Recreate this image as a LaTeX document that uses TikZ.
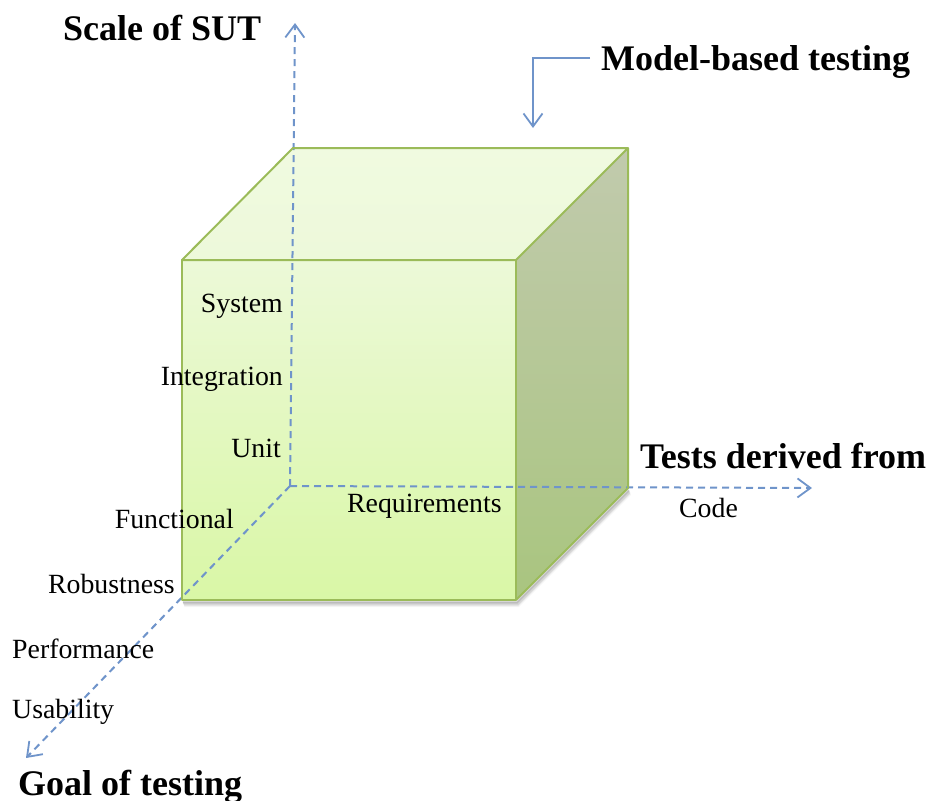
\documentclass[tikz,border=0pt]{standalone}
\usepackage{fontspec}
\setmainfont{Liberation Serif}
\usetikzlibrary{arrows.meta}

\definecolor{axisblue}{HTML}{6F94CA}
\definecolor{edgegreen}{HTML}{9BBB59}
\definecolor{topA}{HTML}{F0FAE0}
\definecolor{topB}{HTML}{EDF9DA}
\definecolor{frontA}{HTML}{ECF9D8}
\definecolor{frontB}{HTML}{D9F7A6}
\definecolor{sideA}{HTML}{C1CAAD}
\definecolor{sideB}{HTML}{A9C57F}

\tikzset{
  barb/.style={-{Straight Barb[length=13pt,width=19pt,line width=1.8pt]}},
  axisline/.style={barb, draw=axisblue, line width=2pt, dash pattern=on 7pt off 5pt},
  callout/.style={barb, draw=axisblue, line width=1.8pt},
  cubeedge/.style={draw=edgegreen, line width=2pt, line join=round},
  lbl/.style={inner sep=0pt, font=\fontsize{27.8}{32}\selectfont},
  title/.style={inner sep=0pt, font=\fontsize{36}{42}\selectfont\bfseries},
}

\begin{document}
\begin{tikzpicture}[x=1pt,y=-1pt]
\useasboundingbox (0,0) rectangle (930,801);

% cube corners
\coordinate (F1) at (182,260);
\coordinate (F2) at (516,260);
\coordinate (F3) at (516,600);
\coordinate (F4) at (182,600);
\coordinate (B1) at (293,148);
\coordinate (B2) at (628,148);
\coordinate (B3) at (628,488);

% soft shadow under the lower edges
\foreach \d/\o in {6/0.04,5/0.06,4/0.09,3/0.12,2/0.16}
  \draw[black, opacity=\o, line width=2pt]
    ([shift={(\d*0.4,\d)}]F4) -- ([shift={(\d*0.4,\d)}]F3) -- ([shift={(\d*0.4,\d)}]B3);

% cube faces
\fill[top color=topA, bottom color=topB] (F1) -- (B1) -- (B2) -- (F2) -- cycle;
\fill[top color=sideA, bottom color=sideB] (F2) -- (B2) -- (B3) -- (F3) -- cycle;
\fill[top color=frontA, bottom color=frontB] (F1) rectangle (F3);

% axes
\coordinate (O) at (290,486);
\coordinate (ytip) at (295,23);
\coordinate (xtip) at (812,488);
\coordinate (ztip) at (26,758);
\draw[axisline] (O) -- (ytip);
\draw[axisline] (O) -- (xtip);
\draw[axisline] (O) -- (ztip);

% cube edges
\draw[cubeedge] (F1) -- (B1) -- (B2) -- (F2) -- cycle;
\draw[cubeedge] (B2) -- (B3) -- (F3);
\draw[cubeedge] (F1) rectangle (F3);

% axis titles
\node[title, anchor=base west] (sut)   at (63,40)   {Scale of SUT};
\node[title, anchor=base west] (mbt)   at (601,70)  {Model-based testing};
\node[title, anchor=base west] (tdf)   at (640,468) {Tests derived from};
\node[title, anchor=base west] (goal)  at (18,795)  {Goal of testing};

% callout pointing at the cube
\coordinate (mbtail) at (590,58);
\coordinate (mbtip) at (533,128);
\draw[callout] (mbtail) -| (mbtip);

% scale of SUT
\node[lbl, anchor=base east] (sys)  at (283,312) {System};
\node[lbl, anchor=base east] (intg) at (283,385) {Integration};
\node[lbl, anchor=base east] (unit) at (281,457) {Unit};

% tests derived from
\node[lbl, anchor=base west] (req)  at (347,512) {Requirements};
\node[lbl, anchor=base west] (code) at (679,517) {Code};

% goal of testing
\node[lbl, anchor=base east] (func) at (234,528) {Functional};
\node[lbl, anchor=base east] (rob)  at (175,593) {Robustness};
\node[lbl, anchor=base west] (perf) at (12,658)  {Performance};
\node[lbl, anchor=base west] (usab) at (12,718)  {Usability};
\end{tikzpicture}
\end{document}
